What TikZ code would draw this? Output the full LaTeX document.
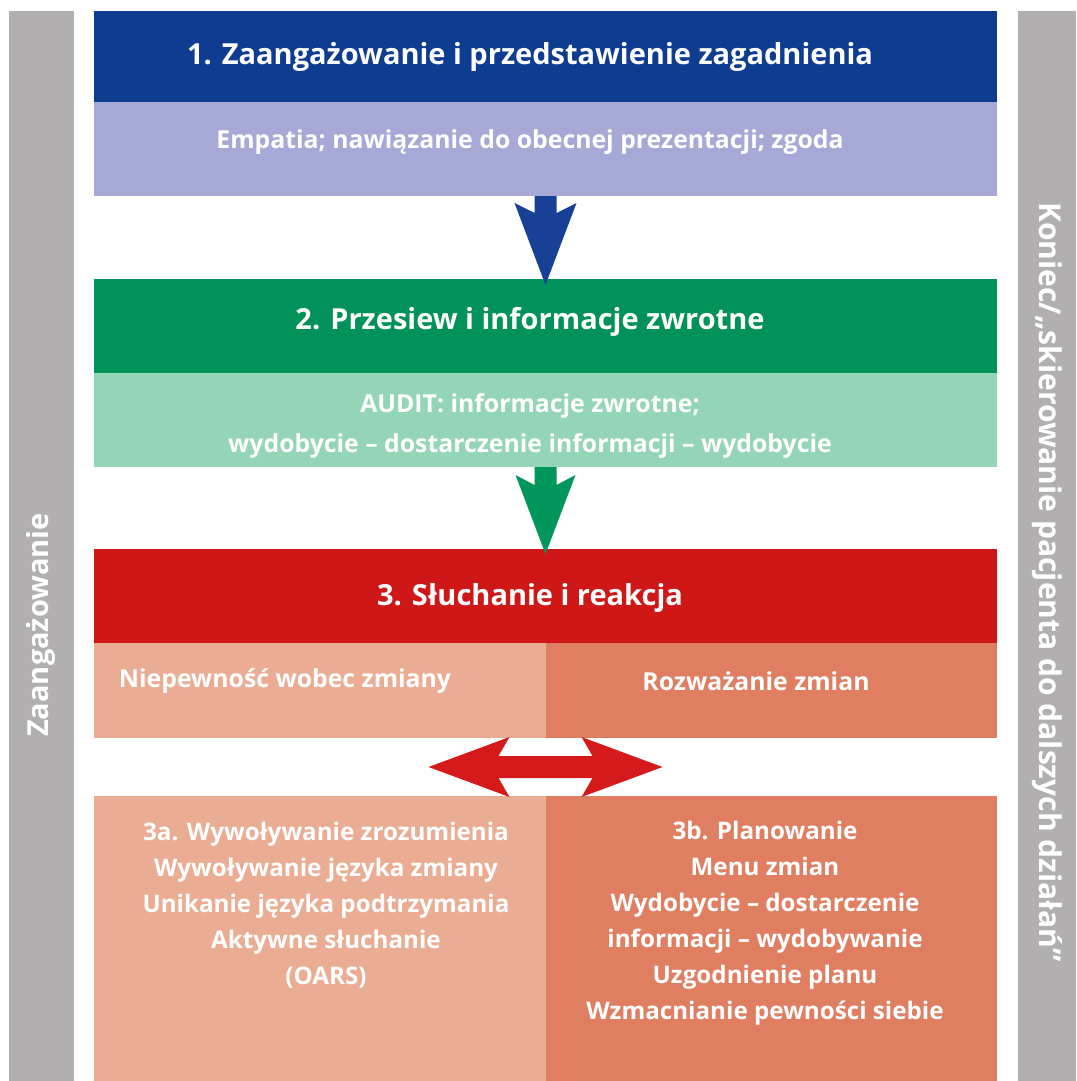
\documentclass[tikz,border=0pt]{standalone}
\usepackage{fontspec}
\setmainfont{Open Sans}
\usetikzlibrary{calc}

\definecolor{hdrblue}{RGB}{14,60,145}
\definecolor{subblue}{RGB}{166,168,213}
\definecolor{hdrgreen}{RGB}{0,146,90}
\definecolor{subgreen}{RGB}{148,213,183}
\definecolor{hdrred}{RGB}{208,23,23}
\definecolor{salmonlight}{RGB}{234,173,148}
\definecolor{salmondark}{RGB}{224,126,97}
\definecolor{sidegray}{RGB}{177,175,176}
\definecolor{arrblue}{RGB}{24,64,150}
\definecolor{arrgreen}{RGB}{0,150,92}
\definecolor{arrred}{RGB}{212,26,26}

\tikzset{
  box/.style={rectangle, inner sep=0pt, outer sep=0pt, anchor=north west,
              minimum width=903pt},
  halfbox/.style={box, minimum width=451.5pt},
  headtext/.style={text=white, font=\bfseries\fontsize{29}{34}\selectfont},
  subtext/.style={text=white, font=\bfseries\fontsize{24.8}{40}\selectfont, align=center},
  listtext/.style={text=white, font=\bfseries\fontsize{24.2}{36}\selectfont, align=center},
  sidetext/.style={text=white, font=\bfseries\fontsize{29}{32}\selectfont}
}

\begin{document}
\begin{tikzpicture}[x=1pt, y=-1pt]
\useasboundingbox (0,0) rectangle (1076,1081);

% side bars
\fill[sidegray] (9,11) rectangle (74,1081);
\fill[sidegray] (1018,11) rectangle (1076,1081);
\node[sidetext, rotate=90] (leftlabel) at (41,625) {Zaangażowanie};
\node[sidetext, rotate=-90, font=\bfseries\fontsize{30}{32}\selectfont] (rightlabel) at (1047,582)
     {Koniec/„skierowanie pacjenta do dalszych działań”};

% step 1
\node[box, fill=hdrblue, minimum height=91pt] (hdrA) at (94,11) {};
\node[box, fill=subblue, minimum height=94pt] (subA) at (94,102) {};
\node[headtext] (hdrAtext) at (530,57) {1. Zaangażowanie i przedstawienie zagadnienia};
\node[subtext] (subAtext) at (530,142) {Empatia; nawiązanie do obecnej prezentacji; zgoda};

% step 2
\node[box, fill=hdrgreen, minimum height=94pt] (hdrB) at (94,279) {};
\node[box, fill=subgreen, minimum height=94pt] (subB) at (94,373) {};
\node[headtext] (hdrBtext) at (530,322) {2. Przesiew i informacje zwrotne};
\node[subtext] (subBtext) at (530,426)
     {AUDIT: informacje zwrotne;\\wydobycie – dostarczenie informacji – wydobycie};

% step 3
\node[box, fill=hdrred, minimum height=94pt] (hdrC) at (94,549) {};
\node[halfbox, fill=salmonlight, minimum height=95pt] (splitL) at (94,643) {};
\node[halfbox, fill=salmondark, minimum height=95pt] (splitR) at (545.5,643) {};
\node[halfbox, fill=salmonlight, minimum height=285pt] (planL) at (94,796) {};
\node[halfbox, fill=salmondark, minimum height=285pt] (planR) at (545.5,796) {};
\node[headtext] (hdrCtext) at (530,598) {3. Słuchanie i reakcja};
\node[subtext] (splitLtext) at (285,681) {Niepewność wobec zmiany};
\node[subtext] (splitRtext) at (756,681) {Rozważanie zmian};
\node[listtext] (planLtext) at (326,905)
     {3a. Wywoływanie zrozumienia\\Wywoływanie języka zmiany\\Unikanie języka podtrzymania\\Aktywne słuchanie\\(OARS)};
\node[listtext] (planRtext) at (765,923)
     {3b. Planowanie\\Menu zmian\\Wydobycie – dostarczenie\\informacji – wydobywanie\\Uzgodnienie planu\\Wzmacnianie pewności siebie};

% arrows between steps
\fill[arrblue] ($(subA.south)+(-11,0)$) -- ($(subA.south)+(-11,17)$)
  -- ($(subA.south)+(-31,7)$) -- ($(hdrB.north)+(0,6)$)
  -- ($(subA.south)+(31,7)$) -- ($(subA.south)+(11,17)$)
  -- ($(subA.south)+(11,0)$) -- cycle;
\fill[arrgreen] ($(subB.south)+(-11,0)$) -- ($(subB.south)+(-11,18)$)
  -- ($(subB.south)+(-30,8)$) -- ($(hdrC.north)+(0,5)$)
  -- ($(subB.south)+(30,8)$) -- ($(subB.south)+(11,18)$)
  -- ($(subB.south)+(11,0)$) -- cycle;

\coordinate (mid) at ($(splitL.south east)!0.5!(planL.north east)$);
\fill[arrred] ($(mid)+(-117,0)$) -- ($(mid)+(-36,-30)$) -- ($(mid)+(-47,-11)$)
  -- ($(mid)+(47,-11)$) -- ($(mid)+(36,-30)$) -- ($(mid)+(117,0)$)
  -- ($(mid)+(36,30)$) -- ($(mid)+(47,11)$) -- ($(mid)+(-47,11)$)
  -- ($(mid)+(-36,30)$) -- cycle;

\end{tikzpicture}
\end{document}
